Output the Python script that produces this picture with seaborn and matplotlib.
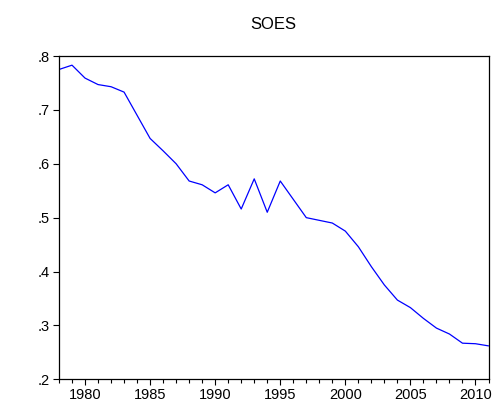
import matplotlib
matplotlib.use("Agg")
import matplotlib.pyplot as plt
import seaborn as sns
import pandas as pd
from matplotlib.ticker import MultipleLocator, FuncFormatter

years = list(range(1978, 2012))
soes = [0.775, 0.783, 0.759, 0.747, 0.743, 0.733, 0.690, 0.647, 0.624, 0.600,
        0.568, 0.561, 0.546, 0.561, 0.516, 0.572, 0.510, 0.568, 0.534, 0.500,
        0.495, 0.490, 0.475, 0.446, 0.409, 0.375, 0.347, 0.333, 0.313, 0.295,
        0.284, 0.267, 0.266, 0.262]
title = "SOES"

df = pd.DataFrame({"year": years, "SOES": soes})

sns.set_style("ticks")
plt.rcParams['font.family'] = ['Liberation Sans', 'DejaVu Sans']

fig = plt.figure(figsize=(4.92, 4.05), dpi=100)
ax = fig.add_axes([0.1199, 0.0635, 0.8730, 0.7982])
sns.lineplot(data=df, x="year", y="SOES", ax=ax, color="#0000ff", linewidth=0.9)

ax.set_xlim(1978, 2011)
ax.set_ylim(0.2, 0.8)
ax.xaxis.set_major_locator(MultipleLocator(5))
ax.xaxis.set_minor_locator(MultipleLocator(1))
ax.yaxis.set_major_locator(MultipleLocator(0.1))
ax.yaxis.set_major_formatter(FuncFormatter(lambda v, p: ("%.1f" % v).lstrip("0")))
ax.set_xlabel("")
ax.set_ylabel("")
ax.set_title(title, fontsize=12, pad=19.5, color="black")
for s in ax.spines.values():
    s.set_visible(True)
    s.set_linewidth(0.9)
    s.set_color("black")
ax.tick_params(axis="both", which="major", labelsize=10.5, length=4.3, width=0.8,
               color="black", labelcolor="black", pad=2)
ax.tick_params(axis="x", which="minor", length=2.9, width=0.8, color="black")
ax.tick_params(axis="y", which="minor", left=False)
fig.savefig("out.png", dpi=100)
